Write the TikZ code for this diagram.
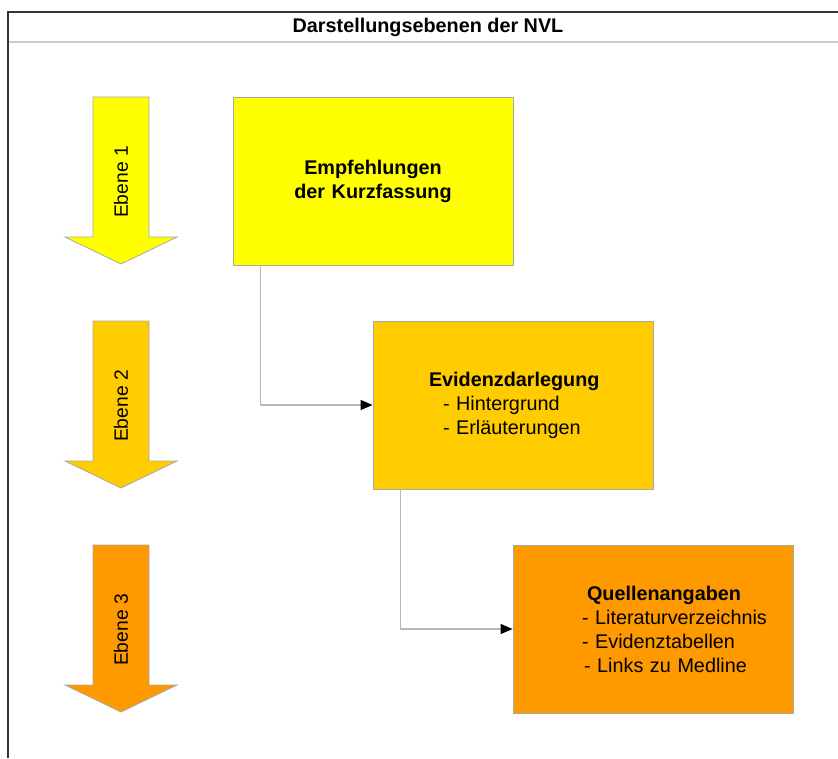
\documentclass[tikz,border=0pt]{standalone}
\usepackage{fontspec}
\setmainfont{Liberation Sans}
\usetikzlibrary{arrows.meta}

\definecolor{ebeneeins}{HTML}{FFFF00}
\definecolor{ebenezwei}{HTML}{FFCC00}
\definecolor{ebenedrei}{HTML}{FF9900}
\definecolor{rahmen}{HTML}{A8A8A8}
\definecolor{linie}{HTML}{B8B8B8}

\tikzset{
  ebenebox/.style={draw=rahmen, line width=0.8pt, minimum width=280pt, minimum height=168pt,
    inner sep=0pt, text width=280pt, align=left, font=\fontsize{19.8}{24}\selectfont},
  ebenepfeil/.style={draw=rahmen, line width=0.8pt},
  verweis/.style={draw=linie, line width=1.2pt, -{Triangle[length=12pt,width=10pt,color=black]}},
}

\begin{document}
\begin{tikzpicture}[x=1pt,y=-1pt]
\useasboundingbox (0,0) rectangle (838,758);
% frame and title
\draw[line width=2.5pt, draw=black!20] (8,42) -- (838,42);
\draw[line width=1.5pt, draw=black!80] (8,758) -- (8,12) -- (838,12);
\node[font=\bfseries\fontsize{19.8}{22}\selectfont] (titel) at (428,27) {Darstellungsebenen der NVL};
% level arrows
\foreach \dy/\farbe/\nr in {0/ebeneeins/1,224/ebenezwei/2,448/ebenedrei/3}{
  \draw[ebenepfeil, fill=\farbe] (93,97+\dy) -- (149,97+\dy) -- (149,237+\dy) -- (177,237+\dy)
    -- (121,264+\dy) -- (65,237+\dy) -- (93,237+\dy) -- cycle;
  \node[rotate=90, font=\fontsize{19.3}{22}\selectfont] (ebene\nr) at (121,182+\dy) {Ebene \nr};
}
% boxes
\node[ebenebox, fill=ebeneeins, align=center] (box1) at (373,181)
  {\textbf{Empfehlungen}\\\textbf{der Kurzfassung}\vphantom{g}\\[-18pt]};
\node[ebenebox, fill=ebenezwei] (box2) at (513,405)
  {\hspace*{56pt}\textbf{Evidenzdarlegung}\\\hspace*{70pt}- Hintergrund\\\hspace*{70pt}- Erläuterungen};
\node[ebenebox, fill=ebenedrei] (box3) at (653,629)
  {\hspace*{74pt}\textbf{Quellenangaben}\\\hspace*{69pt}- Literaturverzeichnis\\\hspace*{69pt}- Evidenztabellen\\\hspace*{71pt}- Links zu Medline};
% connectors
\draw[verweis] (box1.south west) ++(28,0) |- (box2.west);
\draw[verweis] (box2.south west) ++(28,0) |- (box3.west);
\end{tikzpicture}
\end{document}
